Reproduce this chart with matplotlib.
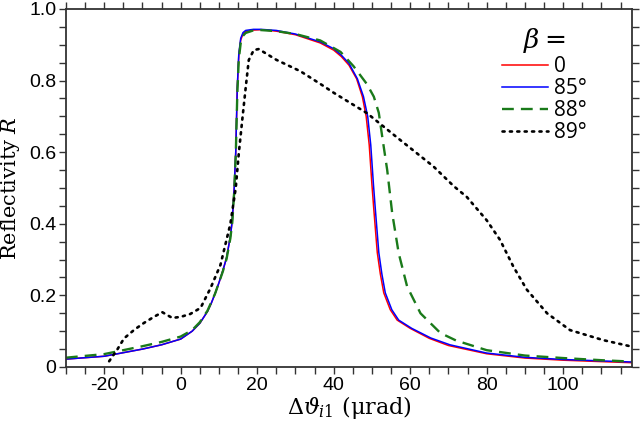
import matplotlib
matplotlib.use("Agg")
import matplotlib.pyplot as plt
from matplotlib.ticker import MultipleLocator, FuncFormatter

plt.rcParams["axes.unicode_minus"] = False
plt.rcParams["mathtext.fontset"] = "dejavuserif"

# ── Data ──────────────────────────────────────────────────────────────────────
x_red = [-30, -20, -10, -5, 0, 3, 5, 7, 8, 9, 10, 11, 12, 13, 13.5, 14, 14.4, 14.8, 15.2,
         15.7, 16.3, 17, 19, 21, 25, 30, 36.5, 40, 42, 44, 46, 47.5, 48.5, 49.3, 50, 50.5,
         51.4, 52.2, 53.1, 54.8, 56.6, 60, 65, 70, 80, 90, 100, 110, 118]
r_red = [0.022, 0.03, 0.05, 0.062, 0.078, 0.1, 0.122, 0.155, 0.178, 0.205, 0.235, 0.268,
         0.305, 0.365, 0.41, 0.5, 0.6, 0.78, 0.87, 0.913, 0.93, 0.937, 0.941, 0.942, 0.938,
         0.928, 0.905, 0.885, 0.867, 0.843, 0.805, 0.755, 0.70, 0.62, 0.51, 0.44, 0.32,
         0.26, 0.207, 0.16, 0.131, 0.108, 0.08, 0.06, 0.037, 0.025, 0.019, 0.015, 0.012]

x_blue = [-30, -20, -10, -5, 0, 3, 5, 7, 8, 9, 10, 11, 12, 13, 13.5, 14, 14.4, 14.8, 15.2,
          15.7, 16.3, 17, 19, 21, 25, 30, 36.5, 40, 42, 44, 46.2, 47.8, 48.9, 49.7, 50.4,
          50.9, 51.8, 52.6, 53.5, 55.2, 57, 60.4, 65.4, 70.4, 80, 90, 100, 110, 118]
r_blue = [0.022, 0.03, 0.05, 0.062, 0.078, 0.1, 0.122, 0.155, 0.178, 0.205, 0.235, 0.268,
          0.305, 0.365, 0.41, 0.5, 0.6, 0.78, 0.875, 0.918, 0.934, 0.94, 0.943, 0.943,
          0.94, 0.93, 0.908, 0.889, 0.871, 0.848, 0.805, 0.755, 0.70, 0.62, 0.51, 0.44,
          0.32, 0.26, 0.207, 0.16, 0.131, 0.108, 0.081, 0.062, 0.039, 0.027, 0.021, 0.017,
          0.014]

x_green = [-30, -20, -10, -5, 0, 3, 5, 7, 9, 11, 12, 13, 13.5, 14, 14.4, 14.8, 15.2, 15.7,
           16.3, 17, 19, 21, 25, 30, 36.5, 41.8, 45.2, 48.7, 50.5, 51.8, 52.7, 54, 55.3,
           57, 59.2, 62.7, 67.9, 72, 80, 90, 100, 110, 118]
r_green = [0.026, 0.036, 0.058, 0.07, 0.085, 0.103, 0.125, 0.157, 0.205, 0.266, 0.302,
           0.36, 0.405, 0.49, 0.59, 0.76, 0.86, 0.905, 0.925, 0.933, 0.94, 0.941, 0.938,
           0.93, 0.912, 0.88, 0.84, 0.79, 0.755, 0.71, 0.643, 0.55, 0.43, 0.318, 0.225,
           0.15, 0.095, 0.074, 0.047, 0.032, 0.025, 0.019, 0.015]

x_black = [-18.7, -16.5, -14.8, -12, -9.6, -7, -4.8, -3.5, -2.2, 0, 2.5, 5.2, 7.8, 10.4,
           13, 14.4, 15.2, 16.1, 17, 17.8, 19.1, 20.4, 25, 31.3, 36.6, 40, 48.7, 57.4,
           66.1, 71.4, 74.8, 80, 83.5, 87, 90.5, 95.8, 101.8, 110.5, 117.5]
r_black = [0.016, 0.05, 0.08, 0.105, 0.123, 0.14, 0.153, 0.145, 0.137, 0.14, 0.148, 0.165,
           0.22, 0.285, 0.4, 0.5, 0.597, 0.69, 0.78, 0.857, 0.885, 0.888, 0.858, 0.826, 0.79,
           0.766, 0.709, 0.634, 0.56, 0.505, 0.475, 0.41, 0.355, 0.28, 0.216, 0.15, 0.103,
           0.075, 0.058]

legend_labels = ["0", "85°", "88°", "89°"]
xticks = [-20, 0, 20, 40, 60, 80, 100]
yticks = [0, 0.2, 0.4, 0.6, 0.8, 1.0]

# ── Figure ────────────────────────────────────────────────────────────────────
fig = plt.figure(figsize=(6.4, 4.26), dpi=100)
ax = fig.add_axes([0.103, 0.1385, 0.8845, 0.8405])

ax.plot(x_red, r_red, color="red", lw=1.1, label=legend_labels[0])
ax.plot(x_blue, r_blue, color="blue", lw=1.1, label=legend_labels[1])
ax.plot(x_green, r_green, color="#1a7a1a", lw=1.7, ls=(0, (5, 3)), label=legend_labels[2])
ax.plot(x_black, r_black, color="black", lw=1.9, ls=(0, (0.8, 2.0)),
        dash_capstyle="round", label=legend_labels[3])

ax.set_xlim(-30, 118)
ax.set_ylim(0, 1.0)
ax.set_xticks(xticks)
ax.set_yticks(yticks)
ax.xaxis.set_minor_locator(MultipleLocator(5))
ax.yaxis.set_minor_locator(MultipleLocator(0.05))
ax.yaxis.set_major_formatter(FuncFormatter(lambda v, p: "0" if v == 0 else f"{v:.1f}"))

tick_font = ["Liberation Sans Narrow", "Liberation Sans", "DejaVu Sans"]
for lab in ax.get_xticklabels() + ax.get_yticklabels():
    lab.set_family(tick_font)
    lab.set_fontsize(14)

ax.tick_params(which="both", direction="out", length=5, width=1.0, color="#333333",
               top=True, right=True, pad=2)
for s in ax.spines.values():
    s.set_linewidth(1.3)
    s.set_color("#333333")

serif = ["DejaVu Serif"]
ax.set_xlabel(r"$\Delta\vartheta_{i1}$ (μrad)", family=serif, fontsize=16, labelpad=0)
ax.set_ylabel(r"Reflectivity $R$", family=serif, fontsize=15)
ax.yaxis.set_label_coords(-0.077, 0.5)

leg = ax.legend(loc="upper right", bbox_to_anchor=(0.935, 0.975), frameon=False,
                title=r"$\beta =$", title_fontsize=19, handlelength=2.2,
                handletextpad=0.3, labelspacing=0.05, borderaxespad=0,
                prop={"family": ["Open Sans", "DejaVu Sans"], "size": 15})
leg._legend_box.align = "center"

fig.savefig("out.png", dpi=100)
